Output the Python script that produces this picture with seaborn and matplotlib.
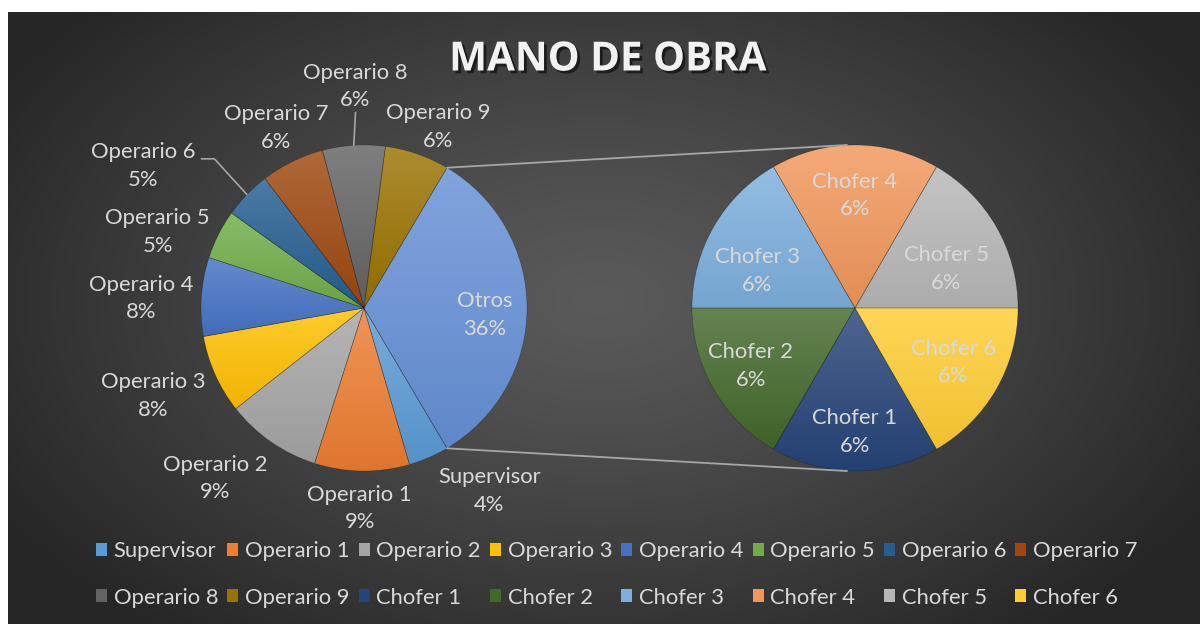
import numpy as np
import matplotlib
matplotlib.use("Agg")
import matplotlib.pyplot as plt
import matplotlib.patheffects as pe
from matplotlib.patches import Patch
from matplotlib.colors import to_rgb
import seaborn as sns

# ---------------- data ----------------
title = "MANO DE OBRA"
main_labels = ["Supervisor", "Operario 1", "Operario 2", "Operario 3", "Operario 4",
               "Operario 5", "Operario 6", "Operario 7", "Operario 8", "Operario 9"]
main_values = [4.0, 9.4, 9.5, 7.8, 7.8, 4.9, 4.7, 6.3, 6.2, 6.4]
main_pct = ["4%", "9%", "9%", "8%", "8%", "5%", "5%", "6%", "6%", "6%"]
other_label = "Otros"
other_pct = "36%"
sub_labels = ["Chofer 1", "Chofer 2", "Chofer 3", "Chofer 4", "Chofer 5", "Chofer 6"]
sub_values = [5.5, 5.5, 5.5, 5.5, 5.5, 5.5]
sub_pct = ["6%", "6%", "6%", "6%", "6%", "6%"]

main_colors = ["#5B9BD5", "#ED7D31", "#A5A5A5", "#FFC000", "#4472C4",
               "#70AD47", "#255E91", "#9E480E", "#636363", "#997300"]
other_color = "#6690D6"
sub_colors = ["#264478", "#43682B", "#7CAFDD", "#F1975A", "#B7B7B7", "#FFCD33"]

# ---------------- style / layout ----------------
sns.set_theme(style="white")
plt.rcParams["font.family"] = ["Lato", "DejaVu Sans"]

W, H = 1200, 624
TXT = "#D9D9D9"
FS = 15.8
LSP = 1.48
R = 163
LC = (364, 308)   # left pie centre (image px)
RC = (855, 308)   # right pie centre (image px)


def Y(y):
    return H - y


def pt(c, r, a_cw):
    a = np.deg2rad(a_cw)
    return c[0] + r * np.sin(a), Y(c[1]) + r * np.cos(a)


fig = plt.figure(figsize=(W / 100, H / 100), dpi=100, facecolor="white")
ax = fig.add_axes([0, 0, 1, 1])
ax.set_axis_off()

# background radial gradient
gx, gy = np.meshgrid(np.linspace(8, W, 400), np.linspace(12, H, 220))
d = np.sqrt(((gx - 600) / 700) ** 2 + ((gy - 300) / 430) ** 2)
d = np.clip(d, 0, 1) ** 1.2
c_in = np.array(to_rgb("#5A5A5A"))
c_out = np.array(to_rgb("#262626"))
bg = c_in[None, None, :] * (1 - d[..., None]) + c_out[None, None, :] * d[..., None]
ax.imshow(bg, extent=(8, W, Y(H), Y(12)), origin="upper", aspect="auto", zorder=0)


def lighten(c, t):
    c = np.array(to_rgb(c))
    return c + (1 - c) * t


def darken(c, t):
    return np.array(to_rgb(c)) * (1 - t)


def grad_fill(w, base):
    th = np.deg2rad(np.linspace(w.theta1, w.theta2, 60))
    xs = np.concatenate([[w.center[0]], w.center[0] + w.r * np.cos(th)])
    ys = np.concatenate([[w.center[1]], w.center[1] + w.r * np.sin(th)])
    n = 64
    t = np.linspace(0, 1, n)[:, None]
    top = lighten(base, 0.18)
    bot = darken(base, 0.06)
    arr = (bot[None, :] * (1 - t) + top[None, :] * t)[:, None, :]
    im = ax.imshow(arr, extent=(xs.min() - 1, xs.max() + 1, ys.min() - 1, ys.max() + 1),
                   origin="lower", aspect="auto", zorder=1)
    im.set_clip_path(w)


# left pie
all_vals = main_values + [sum(sub_values)]
all_cols = main_colors + [other_color]
otros_frac = all_vals[-1] / sum(all_vals)
wl, _ = ax.pie(all_vals, colors=all_cols, startangle=-otros_frac * 180, counterclock=False,
               radius=R, center=(LC[0], Y(LC[1])), frame=True,
               wedgeprops=dict(linewidth=0.5, edgecolor=(0, 0, 0, 0.25)))
for w, c in zip(wl, all_cols):
    w.set_facecolor("none")
    w.set_zorder(2)
    grad_fill(w, c)

# right pie
sub_frac0 = sub_values[0] / sum(sub_values)
wr, _ = ax.pie(sub_values, colors=sub_colors, startangle=-90 + sub_frac0 * 180, counterclock=False,
               radius=R, center=(RC[0], Y(RC[1])), frame=True,
               wedgeprops=dict(linewidth=0.5, edgecolor=(0, 0, 0, 0.25)))
for w, c in zip(wr, sub_colors):
    w.set_facecolor("none")
    w.set_zorder(2)
    grad_fill(w, c)

# cumulative mid angles (clockwise from top)
tot = sum(all_vals)
start_cw = 90 + otros_frac * 180
mids = []
acc = start_cw
for v in all_vals:
    a = v / tot * 360
    mids.append(acc + a / 2)
    acc += a

# left labels: (distance factor, angle nudge)
left_place = [(1.36, -11), (1.23, 0.5), (1.39, 6.4), (1.40, 1.5), (1.37, -1.5),
              (1.35, -6.6), (1.61, -11.3), (1.23, 0), (1.36, 1.4), (1.20, 3.2), (0.74, 3.3)]
left_texts = [f"{l}\n{p}" for l, p in zip(main_labels + [other_label], main_pct + [other_pct])]
for i, (txt, (f, dA)) in enumerate(zip(left_texts, left_place)):
    x, y = pt(LC, R * f, mids[i] + dA)
    ax.text(x, y, txt, ha="center", va="center", fontsize=FS, color=TXT,
            linespacing=LSP, zorder=5)

# leader lines (Operario 6 and Operario 8)
lc = "#A6A6A6"
i6 = main_labels.index("Operario 6")
x6, y6 = pt(LC, R * left_place[i6][0], mids[i6] + left_place[i6][1])
ex, ey = pt(LC, R, mids[i6])
ax.plot([x6 + 58, x6 + 71, ex], [y6 + 7, y6 + 7, ey], color=lc, lw=1.2, zorder=4)
i8 = main_labels.index("Operario 8")
x8, y8 = pt(LC, R * left_place[i8][0], mids[i8] + left_place[i8][1])
ex, ey = pt(LC, R, mids[i8])
ax.plot([x8, ex], [y8 - 26, ey], color=lc, lw=1.2, zorder=4)

# right labels
stot = sum(sub_values)
acc = 180 - sub_frac0 * 180
smids = []
for v in sub_values:
    a = v / stot * 360
    smids.append(acc + a / 2)
    acc += a
right_place = [(0.76, 0), (0.73, 1), (0.64, -9.3), (0.69, 0), (0.61, 7), (0.69, -1)]
for i, (l, p) in enumerate(zip(sub_labels, sub_pct)):
    f, dA = right_place[i]
    x, y = pt(RC, R * f, smids[i] + dA)
    ax.text(x, y, f"{l}\n{p}", ha="center", va="center", fontsize=FS, color=TXT,
            linespacing=LSP, zorder=5)

# connector lines
half = otros_frac * 180
tx, ty = pt(LC, R, 90 - half)
bx, by = pt(LC, R, 90 + half)
ax.plot([tx, RC[0] - 8], [ty, Y(RC[1]) + R], color="#A6A6A6", lw=1.3, zorder=4)
ax.plot([bx, RC[0] - 8], [by, Y(RC[1]) - R], color="#A6A6A6", lw=1.3, zorder=4)

# title
ax.text(608, Y(60), title, ha="center", va="center", fontsize=29, fontweight="bold",
        family=["Open Sans", "DejaVu Sans"], color="#F2F2F2", zorder=6,
        path_effects=[pe.withSimplePatchShadow(offset=(2, -2), shadow_rgbFace="black", alpha=0.55)])

# legend (row-major order across 8 columns)
labels_leg = main_labels + sub_labels
cols_leg = main_colors + sub_colors
handles = [Patch(facecolor=c, edgecolor="none") for c in cols_leg]
ncol = 8
order = [r * ncol + c for c in range(ncol) for r in range(2)]
leg = ax.legend([handles[i] for i in order], [labels_leg[i] for i in order], ncol=ncol,
                loc="upper left", bbox_to_anchor=(96, Y(541)), bbox_transform=ax.transData,
                frameon=False, fontsize=FS, handlelength=0.5, handleheight=0.55,
                handletextpad=0.3, columnspacing=0.42, labelspacing=1.21,
                borderpad=0, borderaxespad=0)
for t in leg.get_texts():
    t.set_color(TXT)

ax.set_xlim(0, W)
ax.set_ylim(0, H)
ax.set_aspect("equal")
fig.savefig("out.png", dpi=100, facecolor="white")
